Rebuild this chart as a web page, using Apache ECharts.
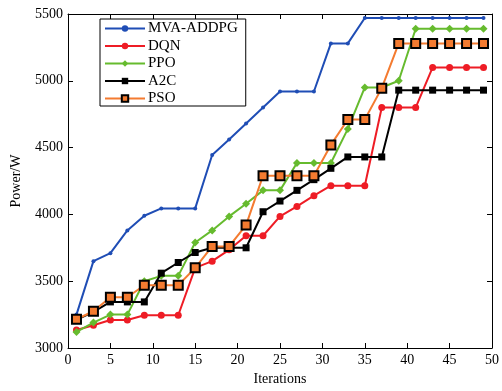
<!DOCTYPE html>
<html><head><meta charset="utf-8">
<script src="https://cdn.jsdelivr.net/npm/echarts@6/dist/echarts.min.js"></script>
<style>html,body{margin:0;padding:0;background:#fff}#c{width:502px;height:391px}</style>
</head><body><div id="c"></div>
<script>
const iterations = [1,3,5,7,9,11,13,15,17,19,21,23,25,27,29,31,33,35,37,39,41,43,45,47,49];
const seriesNames = ['MVA-ADDPG','DQN','PPO','A2C','PSO'];
const mva = [3250,3650,3710,3880,3990,4045,4045,4045,4445,4560,4680,4800,4920,4920,4920,5280,5280,5470,5470,5470,5470,5470,5470,5470,5470];
const dqn = [3135,3170,3210,3210,3245,3245,3245,3600,3650,3735,3840,3840,3985,4060,4140,4215,4215,4215,4800,4800,4800,5100,5100,5100,5100];
const ppo = [3120,3190,3250,3250,3500,3540,3540,3790,3880,3985,4080,4180,4180,4385,4385,4385,4640,4950,4950,5000,5390,5390,5390,5390,5390];
const a2c = [3210,3270,3345,3345,3345,3560,3640,3715,3750,3750,3750,4020,4100,4180,4260,4345,4430,4430,4430,4930,4930,4930,4930,4930,4930];
const pso = [3215,3275,3380,3380,3470,3470,3470,3600,3760,3760,3920,4290,4290,4290,4290,4520,4710,4710,4945,5280,5280,5280,5280,5280,5280];
const xTicks = {min:0, max:50, interval:5};
const yTicks = {min:3000, max:5500, interval:500};

const font = 'Liberation Serif, Times New Roman, serif';
const pair = arr => iterations.map((x,i)=>[x,arr[i]]);
const styles = [
  {color:'#1f4db5', symbol:'circle', size:4},
  {color:'#ee1c25', symbol:'circle', size:7},
  {color:'#66bb2e', symbol:'diamond', size:8},
  {color:'#000000', symbol:'rect', size:7},
  {color:'#f47b30', symbol:'rect', size:9, border:'#000', fill:'#f47b30'}
];
const allData = [mva,dqn,ppo,a2c,pso];
const series = allData.map((d,i)=>{
  const s = styles[i];
  return {
    name: seriesNames[i], type:'line', data: pair(d),
    symbol: s.symbol, symbolSize: s.size, showAllSymbol:true,
    lineStyle:{color:s.color, width:2},
    itemStyle: s.border ? {color:s.fill, borderColor:s.border, borderWidth:2} : {color:s.color, borderWidth:0},
    emphasis:{disabled:true}, animation:false, z: 2+i
  };
});
const axisCommon = {
  axisLine:{show:true, onZero:false, lineStyle:{color:'#000', width:1}},
  axisTick:{show:true, inside:true, length:5, lineStyle:{color:'#000'}},
  splitLine:{show:false}
};
const chart = echarts.init(document.getElementById('c'), null, {renderer:'canvas'});
chart.setOption({
  backgroundColor:'#fff',
  animation:false,
  grid:{left:68, right:7, top:14, bottom:43, containLabel:false},
  legend:{
    orient:'vertical', left:100, top:19, itemWidth:40, itemHeight:8, itemGap:2.5,
    padding:[2,8,0,4], borderColor:'#000', borderWidth:1, backgroundColor:'#fff',
    textStyle:{fontFamily:font, fontSize:15, color:'#000', padding:[0,0,0,-2]},
    data: seriesNames
  },
  xAxis:[
    Object.assign({type:'value', min:xTicks.min, max:xTicks.max, interval:xTicks.interval, position:'bottom',
      name:'Iterations', nameLocation:'middle', nameGap:22,
      nameTextStyle:{fontFamily:font, fontSize:14, color:'#000'},
      axisLabel:{fontFamily:font, fontSize:14, color:'#000', margin:5}}, axisCommon),
    Object.assign({type:'value', min:xTicks.min, max:xTicks.max, interval:xTicks.interval, position:'top',
      axisLabel:{show:false}}, axisCommon)
  ],
  yAxis:[
    Object.assign({type:'value', min:yTicks.min, max:yTicks.max, interval:yTicks.interval, position:'left',
      name:'Power/W', nameLocation:'middle', nameGap:45,
      nameTextStyle:{fontFamily:font, fontSize:14, color:'#000'},
      axisLabel:{fontFamily:font, fontSize:14, color:'#000', margin:5, formatter: v => String(v)}}, axisCommon),
    Object.assign({type:'value', min:yTicks.min, max:yTicks.max, interval:yTicks.interval, position:'right',
      axisLabel:{show:false}}, axisCommon)
  ],
  series: series
});
</script></body></html>
